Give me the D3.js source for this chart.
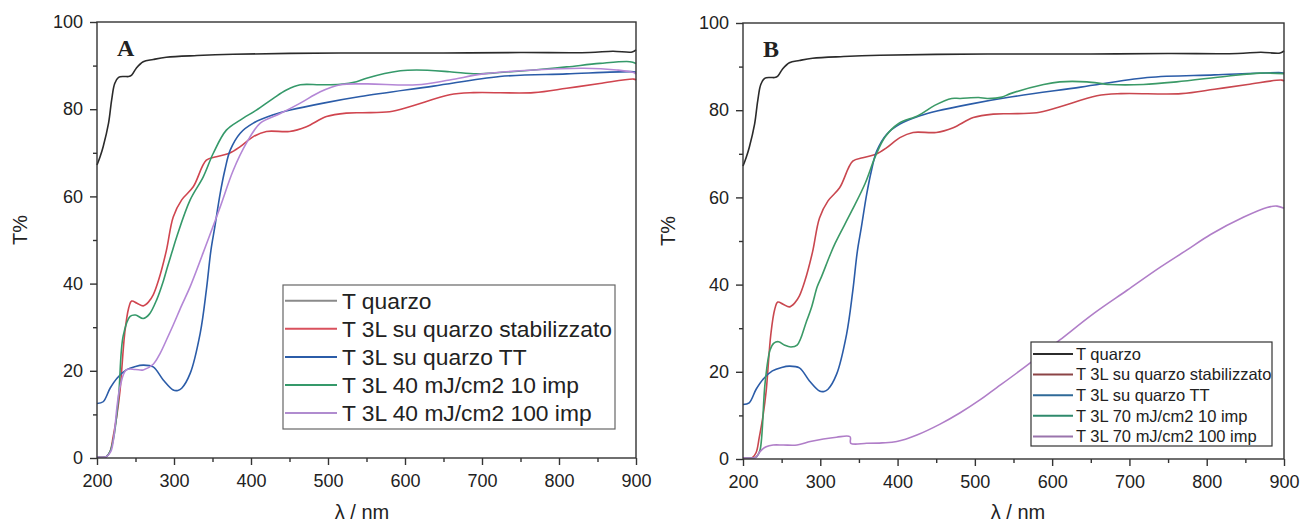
<!DOCTYPE html>
<html>
<head>
<meta charset="utf-8">
<script src="https://cdn.jsdelivr.net/npm/d3@7"></script>
<style>
  body { margin: 0; background: #fff; }
  svg { display: block; }
  text { font-family: "Liberation Sans", Arial, sans-serif; fill: #222; }
</style>
</head>
<body>
<svg id="chart" width="1303" height="527"></svg>
<script>
// Axis ticks
const xMajor = [200, 300, 400, 500, 600, 700, 800, 900];
const xMinor = [250, 350, 450, 550, 650, 750, 850];
const yMajor = [0, 20, 40, 60, 80, 100];
const yMinor = [10, 30, 50, 70, 90];

// Bare quartz substrate (same measurement in both panels)
const quarzoWl = [200, 204, 208, 215, 219, 223, 228, 235, 241, 245, 251, 260, 273, 290, 330, 377, 450, 550, 650, 750, 840, 870, 895, 900];
const quarzoT  = [67.2, 69.1, 71.4, 76.8, 82.1, 85.9, 87.3, 87.5, 87.5, 87.8, 89.4, 90.9, 91.4, 91.9, 92.3, 92.6, 92.8, 92.9, 92.9, 93.0, 93.0, 93.3, 93.1, 93.6];

// 3L film on stabilised quartz
const stabWl = [200, 212, 217, 221, 226, 230, 236, 241, 245, 252, 260, 267, 273, 280, 290, 299, 310, 325, 342, 355, 372, 386, 403, 420, 450, 472, 498, 524, 545, 580, 607, 658, 689, 767, 810, 853, 897, 900];
const stabT  = [0.3, 0.3, 1.5, 4.9, 10, 15.6, 28.6, 34.3, 36, 35.5, 34.9, 35.8, 37.4, 40.8, 47.5, 55.3, 59.2, 62.2, 68.3, 69.1, 69.9, 71.4, 73.7, 74.9, 74.9, 76, 78.3, 79.1, 79.2, 79.4, 80.6, 83.3, 83.8, 83.8, 84.8, 85.9, 86.9, 86.7];

// 3L film on quartz, thermal treatment
const ttWl = [200, 208, 217, 226, 238, 250, 260, 273, 286, 299, 305, 310, 321, 334, 342, 348, 353, 360, 366, 373, 386, 403, 429, 451, 494, 542, 637, 723, 810, 897, 900];
const ttT  = [12.5, 12.9, 16, 18.3, 20.2, 21, 21.3, 20.9, 17.9, 15.6, 15.5, 16, 19.4, 28.6, 38.5, 47.7, 53, 60.7, 66, 70.6, 74.5, 76.8, 78.7, 79.8, 81.4, 82.9, 85.3, 87.5, 88.1, 88.6, 88.5];

// Laser-treated films, 40 mJ/cm2
const l40x10Wl = [200, 212, 217, 222, 228, 234, 243, 250, 260, 268, 278, 286, 291, 297, 304, 321, 338, 351, 368, 386, 407, 429, 446, 464, 490, 516, 537, 550, 594, 615, 658, 693, 723, 767, 810, 853, 892, 900];
const l40x10T  = [0.3, 0.3, 1.5, 5, 14, 28, 32.5, 32.8, 32, 33, 36.5, 40.5, 43.5, 47, 51, 59.2, 64.5, 69.9, 75.2, 77.5, 79.8, 82.5, 84.4, 85.6, 85.6, 85.7, 86.3, 87.1, 88.8, 89, 88.6, 88.1, 88.4, 89, 89.7, 90.5, 90.9, 90.5];
const l40x100Wl = [200, 212, 218, 222, 226, 230, 238, 250, 260, 273, 282, 290, 299, 310, 321, 343, 360, 377, 394, 412, 438, 464, 490, 516, 550, 615, 658, 702, 767, 832, 875, 897, 900];
const l40x100T  = [0.3, 0.3, 1.5, 5, 11.8, 16.4, 20.2, 20.3, 20.2, 21.5, 24, 27, 30.5, 35, 39.3, 49.5, 57.6, 66, 72.2, 76.8, 79, 81.4, 84, 85.6, 85.8, 85.6, 86.7, 88.1, 89, 89.4, 89, 88.4, 88];

// Laser-treated films, 70 mJ/cm2
const l70x10Wl = [200, 215, 218, 222, 228.5, 235, 240, 246, 254, 262, 270, 282, 289, 296, 302, 312, 319, 341, 358, 371, 384, 401, 427, 448, 470, 481, 505, 516, 535, 546, 589, 610, 645, 675, 718, 761, 826, 869, 900];
const l70x10T  = [0.3, 0.3, 0.6, 2, 17.3, 25, 26.6, 26.9, 26.1, 25.7, 26.1, 31.5, 35, 39.5, 42, 46.5, 49.4, 57, 63.2, 69.3, 73.9, 76.9, 78.8, 81.1, 82.7, 82.7, 82.9, 82.7, 83, 83.8, 85.9, 86.5, 86.5, 85.9, 85.9, 86.5, 87.8, 88.5, 88.4];
const l70x100Wl = [200, 215, 218, 222, 230, 239, 252, 270, 287, 304, 321, 338.5, 339.5, 360, 380, 399, 425, 455, 481, 507, 524, 567, 610, 654, 697, 740, 774, 805, 848, 878, 891, 900];
const l70x100T  = [0.3, 0.3, 0.6, 1.7, 2.8, 3.2, 3.2, 3.2, 4, 4.6, 5, 5.1, 3.6, 3.6, 3.7, 4, 5.5, 8.0, 10.6, 13.6, 15.8, 21.4, 27.3, 33.4, 38.7, 44, 47.9, 51.5, 55.5, 57.7, 58, 57.5];

// Legend labels
const namesA = ["T quarzo", "T 3L su quarzo stabilizzato", "T 3L su quarzo TT", "T 3L 40 mJ/cm2 10 imp", "T 3L 40 mJ/cm2 100 imp"];
const namesB = ["T quarzo", "T 3L su quarzo stabilizzato", "T 3L su quarzo TT", "T 3L 70 mJ/cm2 10 imp", "T 3L 70 mJ/cm2 100 imp"];

const zip = (wl, t) => wl.map((w, i) => ({ x: w, y: t[i] }));

const panels = [
  {
    tag: "A",
    box: { left: 97, top: 22, right: 636, bottom: 458 },
    series: [
      { pts: zip(quarzoWl, quarzoT), color: "#2b2b2b", legend: "#8a8a8a" },
      { pts: zip(stabWl, stabT), color: "#d0454f", legend: "#d9515d" },
      { pts: zip(ttWl, ttT), color: "#2b5ca8", legend: "#2b5ca8" },
      { pts: zip(l40x10Wl, l40x10T), color: "#35996a", legend: "#35996a" },
      { pts: zip(l40x100Wl, l40x100T), color: "#b487d6", legend: "#b08ccf" }
    ],
    names: namesA,
    legend: { x: 283, y: 285, w: 332, h: 144, row0: 300.7, step: 28.1, lineEnd: 337, textX: 342, font: 22.8, stroke: "#666" },
    yLabelX: 20, xLabelX: 362
  },
  {
    tag: "B",
    box: { left: 743, top: 23, right: 1284, bottom: 459 },
    series: [
      { pts: zip(quarzoWl, quarzoT), color: "#2b2b2b", legend: "#2b2b2b" },
      { pts: zip(stabWl, stabT), color: "#c9474f", legend: "#8c4446" },
      { pts: zip(ttWl, ttT), color: "#2b5ca8", legend: "#2f6a98" },
      { pts: zip(l70x10Wl, l70x10T), color: "#3b9a67", legend: "#2f8a6c" },
      { pts: zip(l70x100Wl, l70x100T), color: "#b07ec8", legend: "#9a74ac" }
    ],
    names: namesB,
    legend: { x: 1031, y: 342, w: 241, h: 104, row0: 354, step: 20.6, lineEnd: 1073, textX: 1076, font: 16.5, stroke: "#333" },
    yLabelX: 668, xLabelX: 1018
  }
];

const svg = d3.select("#chart");

panels.forEach(p => {
  const b = p.box;
  const x = d3.scaleLinear().domain([200, 900]).range([b.left, b.right]);
  const y = d3.scaleLinear().domain([0, 100]).range([b.bottom, b.top]);
  const g = svg.append("g");

  // curves
  const line = d3.line().x(d => x(d.x)).y(d => y(d.y)).curve(d3.curveCatmullRom.alpha(0.5));
  p.series.forEach(s => {
    g.append("path").datum(s.pts)
      .attr("d", line)
      .attr("fill", "none")
      .attr("stroke", s.color)
      .attr("stroke-width", 1.6)
      .attr("stroke-linejoin", "round");
  });

  // frame
  g.append("rect")
    .attr("x", b.left).attr("y", b.top)
    .attr("width", b.right - b.left).attr("height", b.bottom - b.top)
    .attr("fill", "none").attr("stroke", "#333").attr("stroke-width", 1.4);

  // axes
  const styleAxis = sel => {
    sel.select(".domain").remove();
    sel.selectAll(".tick line").attr("stroke", "#333").attr("stroke-width", 1.4);
    sel.selectAll("text").style("font-size", "18px").attr("fill", "#222");
  };
  g.append("g").attr("transform", `translate(0,${b.bottom})`)
    .call(d3.axisBottom(x).tickValues(xMajor).tickSize(7).tickPadding(9).tickFormat(d3.format("d")))
    .call(styleAxis);
  g.append("g").attr("transform", `translate(0,${b.bottom})`)
    .call(d3.axisBottom(x).tickValues(xMinor).tickSize(4).tickFormat(""))
    .call(styleAxis);
  g.append("g").attr("transform", `translate(${b.left},0)`)
    .call(d3.axisLeft(y).tickValues(yMajor).tickSize(7).tickPadding(7).tickFormat(d3.format("d")))
    .call(styleAxis);
  g.append("g").attr("transform", `translate(${b.left},0)`)
    .call(d3.axisLeft(y).tickValues(yMinor).tickSize(4).tickFormat(""))
    .call(styleAxis);

  // axis titles
  g.append("text")
    .attr("transform", `translate(${p.yLabelX},${(b.top + b.bottom) / 2 - 10}) rotate(-90)`)
    .attr("text-anchor", "middle").attr("dy", "0.35em")
    .style("font-size", "20px").text("T%");
  g.append("text")
    .attr("x", p.xLabelX).attr("y", 519)
    .attr("text-anchor", "middle")
    .style("font-size", "20px").text("λ / nm");

  // panel tag
  g.append("text")
    .attr("x", b.left + 20).attr("y", b.top + 34)
    .style("font-family", "'Liberation Serif', 'Times New Roman', serif")
    .style("font-weight", "bold").style("font-size", "24px").attr("fill", "#111")
    .text(p.tag);

  // legend
  const L = p.legend;
  const lg = g.append("g");
  lg.append("rect")
    .attr("x", L.x).attr("y", L.y).attr("width", L.w).attr("height", L.h)
    .attr("fill", "#fff").attr("stroke", L.stroke).attr("stroke-width", 1.2);
  p.series.forEach((s, i) => {
    const yy = L.row0 + i * L.step;
    lg.append("line")
      .attr("x1", L.x + 2).attr("x2", L.lineEnd).attr("y1", yy).attr("y2", yy)
      .attr("stroke", s.legend).attr("stroke-width", 2);
    lg.append("text")
      .attr("x", L.textX).attr("y", yy).attr("dy", "0.35em")
      .style("font-size", L.font + "px").text(p.names[i]);
  });
});
</script>
</body>
</html>
